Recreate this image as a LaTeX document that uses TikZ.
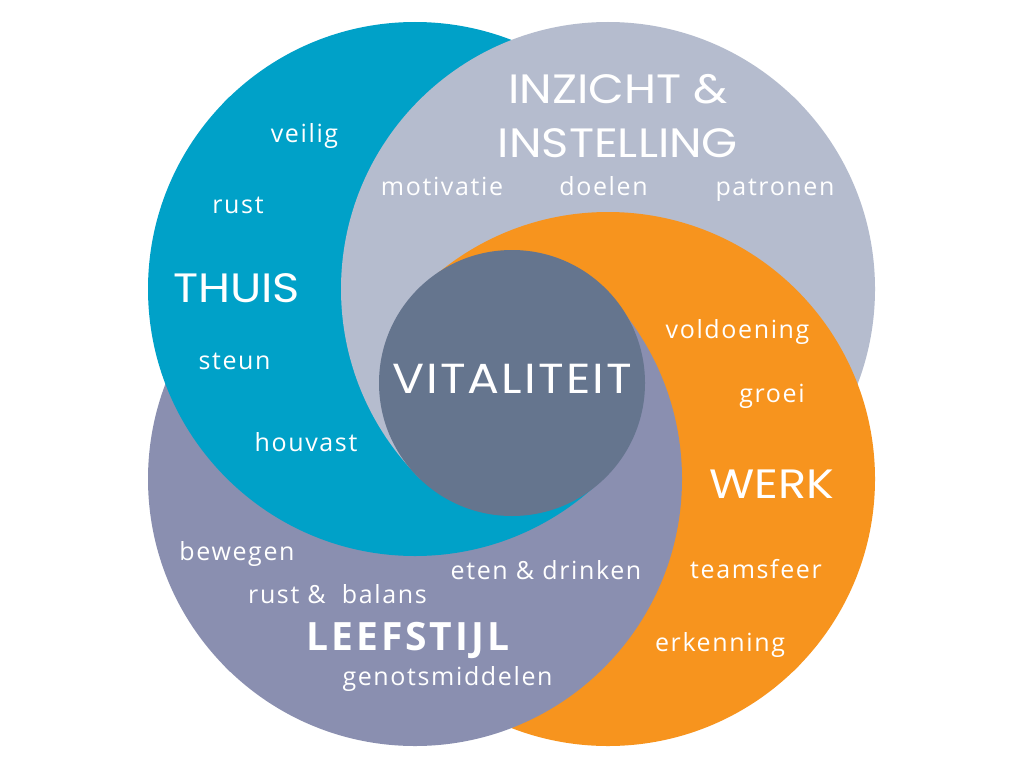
\documentclass[tikz,border=0pt]{standalone}
\usepackage{fontspec}
\setmainfont{Open Sans}
\newfontfamily\smallfont[LetterSpace=6.5]{Open Sans}
\newfontfamily\leeffont[LetterSpace=7.5]{Open Sans}
\newfontfamily\headfont[FakeStretch=1.13]{Poppins}
\newfontfamily\vitfont[FakeStretch=1.13,LetterSpace=5]{Poppins}
\definecolor{thuiscol}{HTML}{00A1C8}
\definecolor{inzichtcol}{HTML}{B5BCCE}
\definecolor{werkcol}{HTML}{F7941E}
\definecolor{leefcol}{HTML}{8A8FB0}
\definecolor{vitcol}{HTML}{65758E}
\newcommand{\shapeT}{\fill[thuiscol] (415,289) circle[radius=267];}
\newcommand{\shapeI}{\fill[inzichtcol] (608,289) circle[radius=267];}
\newcommand{\shapeW}{\fill[werkcol] (608,479) circle[radius=267];}
\newcommand{\shapeL}{\fill[leefcol] (415,479) circle[radius=267];}
\begin{document}
\begin{tikzpicture}[x=1pt,y=-1pt]
\tikzset{
  smalltxt/.style={text=white,font=\smallfont\fontsize{25}{29}\selectfont,anchor=base,inner sep=0pt},
  headtxt/.style={text=white,font=\headfont\fontsize{41}{46}\selectfont,anchor=base,inner sep=0pt},
  leeftxt/.style={text=white,font=\leeffont\bfseries\fontsize{39}{44}\selectfont,anchor=base,inner sep=0pt},
  vittxt/.style={text=white,font=\vitfont\fontsize{42}{46}\selectfont,anchor=base,inner sep=0pt},
}
\useasboundingbox (0,0) rectangle (1024,768);
\fill[white] (0,0) rectangle (1024,768);
\coordinate (C) at (511.5,384);
% top sector
\begin{scope}
  \clip (C) -- ++(-1200,-1180) -- ++(2400,0) -- cycle;
  \begin{scope}[transparency group]
    \shapeL \shapeT \shapeI \shapeW
  \end{scope}
\end{scope}
% right sector
\begin{scope}
  \clip (C) -- ++(1180,-1200) -- ++(0,2400) -- cycle;
  \begin{scope}[transparency group]
    \shapeT \shapeI \shapeW \shapeL
  \end{scope}
\end{scope}
% bottom sector
\begin{scope}
  \clip (C) -- ++(1200,1180) -- ++(-2400,0) -- cycle;
  \begin{scope}[transparency group]
    \shapeI \shapeW \shapeL \shapeT
  \end{scope}
\end{scope}
% left sector
\begin{scope}
  \clip (C) -- ++(-1180,1200) -- ++(0,-2400) -- cycle;
  \begin{scope}[transparency group]
    \shapeW \shapeL \shapeT \shapeI
  \end{scope}
\end{scope}
% centre
\node[circle,fill=vitcol,minimum size=266pt,inner sep=0pt] (centre) at (512,383) {};
\node[vittxt] (vit) at (512,393) {VITALITEIT};
% INZICHT
\node[headtxt] (inz1) at (618,103) {INZICHT \&};
\node[headtxt] (inz2) at (618,157) {INSTELLING};
\node[smalltxt] (motivatie) at (442,195) {motivatie};
\node[smalltxt] (doelen) at (603.5,195) {doelen};
\node[smalltxt] (patronen) at (775,195) {patronen};
% THUIS
\node[smalltxt] (veilig) at (304.5,142) {veilig};
\node[smalltxt] (rust) at (238,213) {rust};
\node[headtxt] (thuis) at (236.5,302) {THUIS};
\node[smalltxt] (steun) at (234.5,369) {steun};
\node[smalltxt] (houvast) at (306,451) {houvast};
% WERK
\node[smalltxt] (voldoening) at (737.5,338) {voldoening};
\node[smalltxt] (groei) at (772,402) {groei};
\node[headtxt] (werk) at (772,498) {WERK};
\node[smalltxt] (teamsfeer) at (756,578) {teamsfeer};
\node[smalltxt] (erkenning) at (720,651) {erkenning};
% LEEFSTIJL
\node[smalltxt] (bewegen) at (237,560) {bewegen};
\node[smalltxt] (rustbalans) at (337.5,603) {rust \&\ \ balans};
\node[smalltxt] (eten) at (546,579) {eten \& drinken};
\node[leeftxt] (leefstijl) at (408,650) {LEEFSTIJL};
\node[smalltxt] (genot) at (447.5,685) {genotsmiddelen};
\end{tikzpicture}
\end{document}
